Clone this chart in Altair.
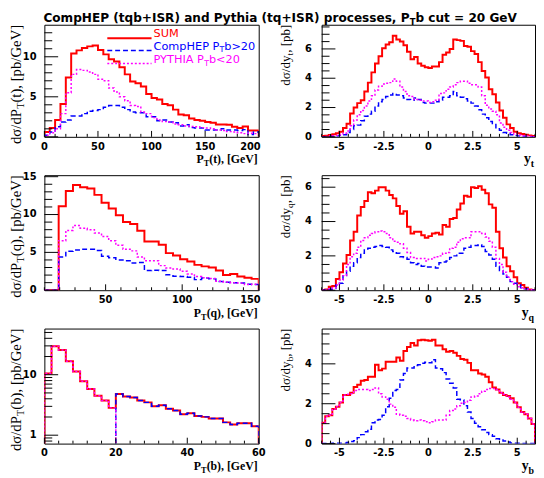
import altair as alt
import pandas as pd

# ---------------- texts ----------------
TITLE_MAIN = ["CompHEP (tqb+ISR) and Pythia (tq+ISR) processes, P", "T", "b cut = 20 GeV"]
LEG_SUM = ["SUM"]
LEG_COMP = ["CompHEP P", "T", "b>20"]
LEG_PYTH = ["PYTHIA P", "T", "b<20"]

# ---------------- panel 1 : PT(t) ----------------
PTT_START, PTT_BIN = 0, 5
PTT_SUM = [0.6, 1.1, 2.1, 4.1, 7.4, 10.4, 10.8, 11.1, 11.3, 11.4, 10.85, 10.3, 9.7, 9.4, 8.7, 7.8, 6.9, 6.7, 6.3, 5.35,
           4.85, 4.65, 4.1, 3.95, 3.4, 2.8, 2.7, 2.3, 2.1, 2.0, 1.85, 1.75, 1.55, 1.55, 1.5, 1.25, 1.1, 1.3, 0.8, 0.8]
PTT_COMP = [0.2, 0.6, 1.25, 1.85, 2.1, 2.6, 2.6, 2.9, 3.2, 3.3, 3.4, 3.7, 3.9, 3.9, 3.7, 3.4, 3.1, 3.0, 3.0, 2.5,
            2.5, 2.0, 2.1, 1.85, 1.75, 1.35, 1.5, 1.15, 1.1, 1.1, 0.85, 0.85, 0.85, 1.0, 0.85, 0.85, 0.8, 0.9, 0.3, 0.6]
PTT_PYTH = [0.2, 0.5, 1.0, 2.9, 5.5, 7.8, 8.4, 8.3, 8.1, 7.8, 7.2, 7.0, 6.1, 5.6, 5.0, 4.5, 3.9, 3.8, 3.1, 2.9,
            2.4, 2.1, 1.9, 1.85, 1.6, 1.5, 1.35, 1.3, 1.25, 1.15, 1.1, 1.0, 0.85, 0.8, 0.65, 0.6, 0.5, 0.4, 0.45, 0.4]

# ---------------- panel 2 : y_t ----------------
Y_START, Y_BIN = -6, 0.2
YT_SUM = [0.05, 0.08, 0.12, 0.18, 0.25, 0.35, 0.6, 0.9, 1.6, 2.0,
          2.3, 2.5, 3.1, 3.7, 4.4, 5.0, 5.5, 6.05, 6.3, 6.45,
          6.9, 6.65, 6.5, 6.25, 5.8, 5.3, 5.45, 5.0, 4.85, 4.75,
          4.7, 4.8, 4.8, 5.1, 5.6, 5.75, 6.0, 6.65, 6.6, 6.55,
          6.2, 6.15, 5.85, 5.65, 5.1, 4.5, 4.05, 3.25, 2.9, 2.35,
          1.8, 1.3, 0.85, 0.6, 0.35, 0.25, 0.2, 0.15, 0.1, 0.05]
YT_PYTH = [0.0, 0.02, 0.05, 0.08, 0.1, 0.15, 0.25, 0.4, 0.75, 1.15,
           1.5, 1.8, 2.1, 2.45, 2.8, 3.2, 3.45, 3.6, 3.65, 3.7,
           3.95, 3.8, 3.4, 3.1, 2.8, 2.75, 2.55, 2.5, 2.45, 2.45,
           2.35, 2.4, 2.5, 2.95, 3.0, 3.25, 3.4, 3.55, 3.7, 3.8,
           3.8, 3.65, 3.55, 3.55, 3.4, 2.8, 2.15, 1.9, 1.75, 1.5,
           0.95, 0.65, 0.45, 0.3, 0.2, 0.12, 0.08, 0.05, 0.03, 0.0]
YT_COMP = [0.0, 0.01, 0.02, 0.04, 0.06, 0.1, 0.15, 0.3, 0.5, 0.75,
           0.8, 1.1, 1.4, 1.55, 1.75, 2.1, 2.4, 2.55, 2.75, 2.85,
           2.95, 2.85, 2.8, 2.65, 2.55, 2.5, 2.65, 2.55, 2.35, 2.3,
           2.3, 2.3, 2.4, 2.5, 2.7, 2.7, 2.8, 3.1, 2.8, 2.7,
           2.6, 2.45, 2.3, 2.1, 1.85, 1.55, 1.3, 1.05, 0.85, 0.55,
           0.45, 0.3, 0.25, 0.15, 0.1, 0.06, 0.04, 0.02, 0.01, 0.0]

# ---------------- panel 3 : PT(q) ----------------
PTQ_START, PTQ_BIN = 10, 14 / 3
PTQ_SUM = [0, 0, 11.1, 13.1, 13.9, 13.6, 13.45, 12.6, 11.55, 10.8, 9.9, 9.0, 8.75, 7.85, 6.45, 6.45, 6.0, 4.9,
           4.6, 4.1, 3.8, 3.35, 3.15, 3.0, 2.6, 2.0, 2.15, 1.8, 1.65, 1.5]
PTQ_PYTH = [0, 0, 6.55, 7.9, 8.55, 8.2, 8.0, 7.55, 7.1, 6.55, 5.95, 5.4, 5.2, 4.4, 3.9, 3.9, 3.25, 2.95,
            2.8, 2.5, 2.15, 1.8, 1.65, 1.55, 1.2, 1.1, 1.0, 0.95, 0.75, 0.8]
PTQ_COMP = [0, 0, 4.4, 5.15, 5.3, 5.4, 5.4, 5.25, 4.5, 4.3, 4.0, 3.9, 3.6, 3.65, 2.6, 2.65, 2.6, 2.05,
            1.85, 1.8, 1.7, 1.4, 1.6, 1.5, 1.15, 1.05, 1.0, 0.95, 0.8, 0.75]

# ---------------- panel 4 : y_q ----------------
YQ_SUM = [0.02, 0.05, 0.2, 0.25, 0.65, 1.05, 1.55, 2.05, 2.9, 3.4,
          4.35, 4.85, 5.2, 5.7, 5.65, 5.8, 6.0, 6.0, 5.8, 5.55,
          5.35, 4.9, 4.45, 4.6, 3.7, 3.3, 3.4, 3.4, 3.2, 3.05,
          3.15, 3.3, 3.35, 3.25, 3.8, 3.7, 4.15, 4.2, 4.7, 5.05,
          5.5, 5.45, 6.0, 5.95, 6.05, 5.85, 5.65, 5.0, 4.8, 3.4,
          2.45, 1.9, 1.4, 1.1, 0.75, 0.4, 0.3, 0.15, 0.05, 0.02]
YQ_PYTH = [0.0, 0.02, 0.08, 0.15, 0.3, 0.6, 0.85, 1.5, 1.95, 2.15,
           2.5, 2.9, 3.05, 3.2, 3.3, 3.4, 3.45, 3.4, 3.3, 3.05,
           2.85, 2.8, 2.7, 2.45, 2.2, 1.9, 1.85, 1.85, 1.85, 1.7,
           1.8, 1.9, 1.95, 2.0, 2.15, 2.2, 2.45, 2.5, 2.8, 3.0,
           3.05, 3.05, 3.4, 3.4, 3.4, 3.3, 3.1, 2.85, 2.5, 1.85,
           1.5, 1.05, 0.75, 0.5, 0.35, 0.2, 0.15, 0.08, 0.03, 0.0]
YQ_COMP = [0.0, 0.02, 0.05, 0.1, 0.3, 0.4, 0.85, 1.1, 1.4, 1.6,
           1.9, 2.15, 2.4, 2.45, 2.5, 2.55, 2.6, 2.55, 2.5, 2.35,
           2.25, 2.15, 1.95, 1.9, 1.8, 1.6, 1.5, 1.55, 1.4, 1.35,
           1.35, 1.35, 1.3, 1.6, 1.65, 1.7, 1.9, 2.0, 2.15, 2.15,
           2.45, 2.5, 2.6, 2.6, 2.65, 2.55, 2.25, 2.05, 1.8, 1.4,
           1.15, 0.95, 0.75, 0.5, 0.4, 0.3, 0.15, 0.08, 0.03, 0.0]

# ---------------- panel 5 : PT(b) (log) ----------------
PTB_START, PTB_BIN = 0, 2
PTB_SUM = [10.5, 29.7, 25.7, 16.7, 11.3, 7.8, 5.8, 4.5, 3.75, 2.83, 4.8, 4.35, 4.2, 3.75, 3.49, 3.0, 3.12, 2.73,
           2.57, 2.22, 2.3, 2.08, 2.01, 1.89, 1.89, 1.63, 1.5, 1.57, 1.57, 1.41]
PTB_PYTH = [10.5, 29.7, 25.7, 16.7, 11.3, 7.8, 5.8, 4.5, 3.75, 2.83, 0, 0, 0, 0, 0, 0, 0, 0,
            0, 0, 0, 0, 0, 0, 0, 0, 0, 0, 0, 0]
PTB_COMP = [0, 0, 0, 0, 0, 0, 0, 0, 0, 0, 4.8, 4.35, 4.2, 3.75, 3.49, 3.0, 3.12, 2.73,
            2.57, 2.22, 2.3, 2.08, 2.01, 1.89, 1.89, 1.63, 1.5, 1.57, 1.57, 1.41]

# ---------------- panel 6 : y_b ----------------
YB_SUM = [1.05, 1.37, 1.42, 1.74, 1.85, 2.06, 2.44, 2.44, 2.55, 2.84,
          2.95, 3.15, 3.19, 3.35, 3.35, 3.95, 3.68, 3.76, 4.11, 4.11,
          4.11, 4.32, 4.16, 4.65, 4.85, 5.05, 4.92, 5.18, 5.21, 5.18,
          5.16, 5.21, 4.92, 4.92, 4.73, 4.61, 4.65, 4.56, 4.4, 4.24,
          4.21, 4.05, 3.68, 3.68, 3.52, 3.47, 3.35, 3.08, 2.82, 2.71,
          2.55, 2.44, 2.39, 2.27, 2.06, 1.82, 1.58, 1.47, 1.26, 0.98]
YB_PYTH = [1.05, 1.37, 1.42, 1.74, 1.85, 2.06, 2.44, 2.47, 2.5, 2.66,
           2.71, 2.71, 2.71, 2.66, 2.71, 2.79, 2.5, 2.34, 2.23, 1.98,
           1.82, 1.47, 1.42, 1.37, 1.26, 1.18, 1.15, 1.18, 1.15, 1.1,
           1.05, 1.1, 1.18, 1.18, 1.18, 1.42, 1.66, 1.74, 1.9, 2.02,
           2.06, 2.18, 2.34, 2.39, 2.5, 2.63, 2.71, 2.76, 2.76, 2.71,
           2.55, 2.47, 2.34, 2.23, 2.06, 1.82, 1.58, 1.47, 1.26, 0.98]
YB_COMP = [0.0, 0.0, 0.0, 0.02, 0.02, 0.02, 0.02, 0.05, 0.1, 0.15,
           0.3, 0.45, 0.6, 0.72, 1.05, 1.18, 1.21, 1.42, 1.85, 2.27,
           2.66, 2.71, 3.19, 3.52, 3.79, 3.79, 3.92, 3.95, 4.03, 4.08,
           4.05, 4.21, 3.79, 3.76, 3.56, 3.24, 3.03, 2.79, 2.23, 2.19,
           1.9, 1.58, 1.26, 1.02, 0.85, 0.69, 0.56, 0.45, 0.37, 0.24,
           0.18, 0.13, 0.08, 0.03, 0.02, 0.02, 0.01, 0.0, 0.0, 0.0]

# ---------------- tick label values ----------------
X_LAB_PTT = [0, 50, 100, 150, 200]
X_LAB_PTQ = [50, 100, 150]
X_LAB_PTB = [0, 20, 40, 60]
X_LAB_RAP = [-5, -2.5, 0, 2.5, 5]

# ---------------- styling helpers ----------------
RED, BLUE, MAG = "#ff0000", "#0000ff", "#ff00ff"
STY_SUM = dict(color=RED, strokeWidth=2)
STY_COMP = dict(color=BLUE, strokeWidth=1.5, strokeDash=[5, 3])
STY_PYTH = dict(color=MAG, strokeWidth=1.5, strokeDash=[2, 2])
LABEL_FONT = dict(font="DejaVu Sans", fontWeight="bold", fontSize=10, color="black")

DVSB = {'C': .733, 'o': .687, 'm': 1.042, 'p': .716, 'H': .838, 'E': .683, 'P': .733, ' ': .348, '(': .457,
        ')': .457, 't': .478, 'q': .716, 'b': .716, '+': .838, 'I': .372, 'S': .720, 'R': .770, 'a': .675,
        'n': .712, 'd': .716, 'y': .652, 'h': .712, 'i': .343, 'r': .493, 'c': .593, 'e': .678, 's': .595,
        ',': .380, 'T': .682, 'u': .712, '=': .838, '2': .696, '0': .696, 'G': .821, 'V': .774}
DVS = {'S': .635, 'U': .732, 'M': .863, 'C': .698, 'o': .612, 'm': .974, 'p': .635, 'H': .752, 'E': .632,
       'P': .603, ' ': .318, 'T': .611, 'b': .635, '>': .838, '<': .838, '2': .636, '0': .636, 'Y': .611,
       'I': .295, 'A': .684}
SERIF = {'d': .5, 'σ': .55, '/': .278, 'P': .556, 'T': .611, '(': .333, 't': .278, ')': .333, ',': .25,
         ' ': .25, '[': .333, 'p': .5, 'b': .5, 'G': .722, 'e': .444, 'V': .722, ']': .333, 'y': .5, 'q': .5}
SERIFB = {'P': .611, 'T': .667, '(': .333, 't': .333, ')': .333, ',': .25, ' ': .25, '[': .333, 'G': .778,
          'e': .444, 'V': .722, ']': .333, 'q': .556, 'b': .556, 'y': .5}


def tw(s, table, size):
    return sum(table.get(c, 0.6) for c in s) * size


def rich(parts, x, y, font, table, weight="normal", color="black", anchor="start", angle=0,
         baseline="alphabetic"):
    """parts: list of (text, size, dy); pieces are laid one after another along the reading direction."""
    widths = [tw(t, table, s) for t, s, _ in parts]
    total = sum(widths)
    off = -total if anchor == "end" else 0.0
    out = []
    for (t, s, dy), w in zip(parts, widths):
        out.append(
            alt.Chart(pd.DataFrame({"t": [t]}))
            .mark_text(align="left", baseline=baseline, font=font, fontSize=s, fontWeight=weight,
                       color=color, angle=angle, dx=off, dy=dy)
            .encode(x=alt.value(x), y=alt.value(y), text="t:N")
        )
        off += w
    return out


def outline(start, width, values):
    n = len(values)
    xs = [start] + [start + i * width for i in range(n)] + [start + n * width]
    ys = [0.0] + list(values) + [0.0]
    return pd.DataFrame({"x": xs, "y": ys, "i": list(range(n + 2))})


def steps(lo, hi, step, skip):
    out, v = [], lo
    while v <= hi + 1e-9:
        r = round(v, 4)
        if all(abs(r - s) > 1e-6 for s in skip):
            out.append(r)
        v += step
    return out


def lab(v):
    return f"{v:g}"


def panel(w, h, start, bw, s_sum, s_comp, s_pyth, xdom, ydom, xlab, ylab, xmin_t, ymin_t,
          xtitle, ytitle, ytitle_x, ylog=False, right_label=None, ylabpad=8, extra=()):
    xsc = alt.Scale(domain=xdom, nice=False, zero=False)
    if ylog:
        ysc = alt.Scale(type="log", domain=ydom, nice=False)
    else:
        ysc = alt.Scale(domain=ydom, nice=False, zero=False)
    layers = []
    for vals, sty in [(s_sum, STY_SUM), (s_comp, STY_COMP), (s_pyth, STY_PYTH)]:
        base = alt.Chart(outline(start, bw, vals)).transform_calculate(yy="max(datum.y, 0.3)")
        layers.append(
            base.mark_line(interpolate="step-after", clip=True, **sty).encode(
                x=alt.X("x:Q", scale=xsc, axis=None),
                y=alt.Y("yy:Q" if ylog else "y:Q", scale=ysc, axis=None),
                order="i:Q",
            )
        )
    # inward ticks
    for vals, ln in [(ylab, 14), (ymin_t, 8)]:
        layers.append(
            alt.Chart(pd.DataFrame({"v": vals})).mark_rule(color="black", strokeWidth=1).encode(
                y=alt.Y("v:Q", scale=ysc, axis=None), x=alt.value(0), x2=alt.value(ln))
        )
    for vals, ln in [(xlab, 6), (xmin_t, 3)]:
        layers.append(
            alt.Chart(pd.DataFrame({"v": vals})).mark_rule(color="black", strokeWidth=1).encode(
                x=alt.X("v:Q", scale=xsc, axis=None), y=alt.value(h), y2=alt.value(h - ln))
        )
    # tick labels
    layers.append(
        alt.Chart(pd.DataFrame({"v": ylab, "l": [lab(v) for v in ylab]}))
        .mark_text(align="right", baseline="middle", **LABEL_FONT)
        .encode(y=alt.Y("v:Q", scale=ysc, axis=None), x=alt.value(-ylabpad), text="l:N")
    )
    xc = [v for v in xlab if v != right_label]
    layers.append(
        alt.Chart(pd.DataFrame({"v": xc, "l": [lab(v) for v in xc]}))
        .mark_text(align="center", baseline="top", **LABEL_FONT)
        .encode(x=alt.X("v:Q", scale=xsc, axis=None), y=alt.value(h + 5), text="l:N")
    )
    if right_label is not None:
        layers.append(
            alt.Chart(pd.DataFrame({"v": [right_label], "l": [lab(right_label)]}))
            .mark_text(align="right", baseline="top", dx=2, **LABEL_FONT)
            .encode(x=alt.X("v:Q", scale=xsc, axis=None), y=alt.value(h + 5), text="l:N")
        )
    # titles
    layers += rich(xtitle[0], w - 1, h + 27, "Liberation Serif", SERIFB, weight="bold", anchor="end")
    layers += rich(ytitle[0], ytitle_x, 0, "Liberation Serif", SERIF, anchor="end", angle=270,
                   baseline="top")
    layers += list(extra)
    return alt.layer(*layers).properties(width=w, height=h)


W1, W2 = 218, 217
H1, H2, H3 = 114, 117, 117

# main title + legend (placed in the first panel)
extra1 = []
extra1 += rich([(TITLE_MAIN[0], 12.3, 0), (TITLE_MAIN[1], 8.6, 5.5), (TITLE_MAIN[2], 12.3, 0)], -1, -12.5,
               "DejaVu Sans", DVSB, weight="bold", baseline="top")
leg_rows = [(LEG_SUM, STY_SUM, 12, 13.7), (LEG_COMP, STY_COMP, 25.5, 26.3), (LEG_PYTH, STY_PYTH, 39, 39.5)]
for parts, sty, ty, ly in leg_rows:
    extra1.append(
        alt.Chart(pd.DataFrame({"a": [0]})).mark_rule(**sty).encode(
            x=alt.value(64), x2=alt.value(109), y=alt.value(ly))
    )
    if len(parts) == 1:
        p = [(parts[0], 11.5, 0)]
    else:
        p = [(parts[0], 11.5, 0), (parts[1], 8, 2.5), (parts[2], 11.5, 0)]
    extra1 += rich(p, 111, ty, "DejaVu Sans", DVS, color=sty["color"])

YT_L = lambda s: [("dσ/dP", 15, 0), ("T", 10.5, 7), (s, 15, 0)]
YT_R = lambda s: [("dσ/dy", 13.2, 0), (s, 9.4, 6), (", [pb]", 13.2, 0)]

p1 = panel(W1, H1, PTT_START, PTT_BIN, PTT_SUM, PTT_COMP, PTT_PYTH, [0, 200], [0, 14],
           X_LAB_PTT, [0, 5, 10],
           steps(0, 200, 10, X_LAB_PTT), steps(0, 13, 1, [0, 5, 10]),
           [[("P", 12, 0), ("T", 8.5, 3), ("(t), [GeV]", 12, 0)]],
           [YT_L("(t), [pb/GeV]")], -36,
           right_label=200, extra=extra1)

p2 = panel(W2, H1, Y_START, Y_BIN, YT_SUM, YT_COMP, YT_PYTH, [-6, 6], [0, 7.65],
           X_LAB_RAP, [0, 2, 4, 6],
           steps(-6, 6, 0.5, X_LAB_RAP), steps(0, 7.5, 0.5, [0, 2, 4, 6]),
           [[("y", 14, 0), ("t", 10, 4)]],
           [YT_R("t")], -42, ylabpad=10)

p3 = panel(W1, H2, PTQ_START, PTQ_BIN, PTQ_SUM, PTQ_COMP, PTQ_PYTH, [10, 150], [0, 15.2],
           X_LAB_PTQ, [0, 5, 10, 15],
           steps(10, 150, 10, X_LAB_PTQ), steps(0, 15, 1, [0, 5, 10, 15]),
           [[("P", 12, 0), ("T", 8.5, 3), ("(q), [GeV]", 12, 0)]],
           [YT_L("(q), [pb/GeV]")], -36,
           right_label=150)

p4 = panel(W2, H2, Y_START, Y_BIN, YQ_SUM, YQ_COMP, YQ_PYTH, [-6, 6], [0, 6.7],
           X_LAB_RAP, [0, 2, 4, 6],
           steps(-6, 6, 0.5, X_LAB_RAP), steps(0, 6.5, 0.5, [0, 2, 4, 6]),
           [[("y", 14, 0), ("q", 10, 4)]],
           [YT_R("q")], -42, ylabpad=10)

p5 = panel(W1, H3, PTB_START, PTB_BIN, PTB_SUM, PTB_COMP, PTB_PYTH, [0, 60], [0.726, 58],
           X_LAB_PTB, [1, 10],
           steps(0, 60, 4, X_LAB_PTB), [0.8, 0.9, 2, 3, 4, 5, 6, 7, 8, 9, 20, 30, 40, 50],
           [[("P", 12, 0), ("T", 8.5, 3), ("(b), [GeV]", 12, 0)]],
           [YT_L("(b), [pb/GeV]")], -36, ylog=True)

p6 = panel(W2, H3, Y_START, Y_BIN, YB_SUM, YB_COMP, YB_PYTH, [-6, 6], [0, 5.77],
           X_LAB_RAP, [0, 2, 4],
           steps(-6, 6, 0.5, X_LAB_RAP), steps(0, 5.5, 0.5, [0, 2, 4]),
           [[("y", 14, 0), ("b", 10, 4)]],
           [YT_R("b")], -42, ylabpad=10)

chart = (
    alt.concat(p1, p2, p3, p4, p5, p6, columns=2, spacing={"row": 39, "column": 64},
               bounds="flush", align="each", padding=0)
    .configure_view(stroke="black", strokeWidth=1)
)

chart.save("out.html", embed_options={"renderer": "svg", "actions": False})
